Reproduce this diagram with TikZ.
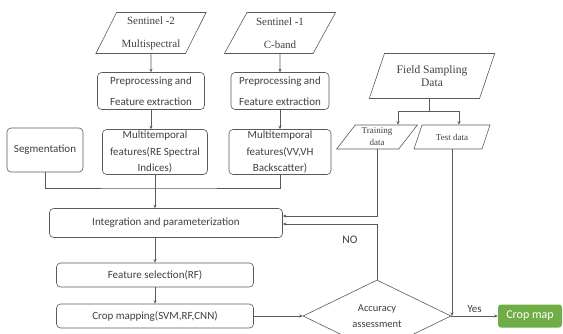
\documentclass[tikz,border=0pt]{standalone}
\usepackage{fontspec}
\setmainfont{Liberation Serif}
\setsansfont{Carlito}
\usetikzlibrary{shapes.geometric,arrows.meta}

\definecolor{linegray}{HTML}{5A5A5A}
\definecolor{textgray}{HTML}{3F3F3F}
\definecolor{mapgreen}{HTML}{70AD47}

\tikzset{
  io/.style={trapezium, trapezium left angle=62, trapezium right angle=118,
    trapezium stretches=true, draw=linegray, line width=0.6pt, inner sep=0pt,
    align=center, text=textgray},
  box/.style={draw=linegray, line width=0.6pt, rounded corners=4pt, inner sep=0pt,
    align=center, text=textgray, font=\sffamily\fontsize{11}{13}\selectfont},
  line/.style={draw=linegray, line width=0.8pt}
}

\begin{document}
\begin{tikzpicture}[x=1pt,y=-1pt,>={Stealth[length=3.5pt,width=3pt]}]
\useasboundingbox (0,0) rectangle (563,333);

% satellite inputs
\node[io,minimum width=111pt,minimum height=41pt,font=\fontsize{11}{23}\selectfont] (s2) at (151,33) {Sentinel -2\\Multispectral};
\node[io,minimum width=112pt,minimum height=41pt,font=\fontsize{11}{23}\selectfont] (s1) at (280,33) {Sentinel -1\\C-band};

\node[box,minimum width=107pt,minimum height=37pt,font=\sffamily\fontsize{11}{21}\selectfont] (pre2) at (151,91) {Preprocessing and\\Feature extraction};
\node[box,minimum width=98pt,minimum height=37pt,font=\sffamily\fontsize{11}{21}\selectfont] (pre1) at (280,91) {Preprocessing and\\Feature extraction};

\node[box,minimum width=105pt,minimum height=45pt,font=\sffamily\fontsize{11}{16.5}\selectfont] (mt2) at (155,152) {Multitemporal\\features(RE Spectral\\Indices)};
\node[box,minimum width=102pt,minimum height=45pt,font=\sffamily\fontsize{11}{16.5}\selectfont] (mt1) at (280,152) {Multitemporal\\features(VV,VH\\Backscatter)};
\node[box,minimum width=76pt,minimum height=44pt] (seg) at (45,150) {Segmentation};

% field data
\node[io,minimum width=126pt,minimum height=45pt,font=\fontsize{11.5}{13}\selectfont] (fld) at (432,76) {Field Sampling\\Data};
\node[io,trapezium left angle=54,trapezium right angle=126,minimum width=81pt,minimum height=24pt,
  font=\fontsize{9}{12}\selectfont] (train) at (377,137) {Training\\data};
\node[io,trapezium left angle=56,trapezium right angle=124,minimum width=76pt,minimum height=24pt,
  font=\fontsize{9}{12}\selectfont] (test) at (452,137) {Test data};

% processing chain
\node[box,minimum width=233pt,minimum height=29pt] (integ) at (166,223) {Integration and parameterization};
\node[box,minimum width=197pt,minimum height=24pt] (fsel) at (155,275) {Feature selection(RF)};
\node[box,minimum width=197pt,minimum height=24pt] (cmap) at (155,316) {Crop mapping(SVM,RF,CNN)};
\node[diamond,draw=linegray,line width=0.6pt,minimum width=148pt,minimum height=46pt,inner sep=0pt,
  align=center,text=textgray,font=\sffamily\fontsize{10.5}{16}\selectfont] (acc) at (377,316) {Accuracy\\assessment};
\node[fill=mapgreen,rounded corners=3pt,minimum width=64pt,minimum height=23pt,inner sep=0pt,
  text=white,font=\sffamily\fontsize{12}{14}\selectfont] (out) at (530,316) {Crop map};

\node[text=textgray,font=\sffamily\fontsize{11.5}{13}\selectfont] (no) at (350,240) {NO};

\coordinate (mrg) at (155,188);
\coordinate (fs) at (429,111);

% connectors
\draw[line,->] (s2) -- (pre2);
\draw[line,->] (s1) -- (pre1);
\draw[line,->] (pre2.south) -- (pre2.south|-mt2.north);
\draw[line,->] (pre1) -- (mt1);
\draw[line] (seg) |- (mrg) -| (mt1);
\draw[line] (mt2) -- (mrg);
\draw[line,->] (mrg) -- (mrg|-integ.north);

\draw[line] (fld.south-|fs) -- (fs);
\draw[line,->] (fs) -| ([xshift=21pt]train.north);
\draw[line,->] (fs) -| ([xshift=7pt]test.north);
\draw[line,->] (train) |- ([yshift=7pt]integ.east);

\draw[line,->] (integ.south-|fsel) -- (fsel);
\draw[line,->] (fsel) -- (cmap);
\draw[line,->] (cmap) -- (acc);
\draw[line,->] (acc) |- ([yshift=-1pt]integ.east);
\draw[line,->] (test) -- (test|-acc.east);
\draw[line,->] (acc.east) -- node[above,text=textgray,font=\sffamily\fontsize{11}{13}\selectfont] {Yes} (out);
\end{tikzpicture}
\end{document}
